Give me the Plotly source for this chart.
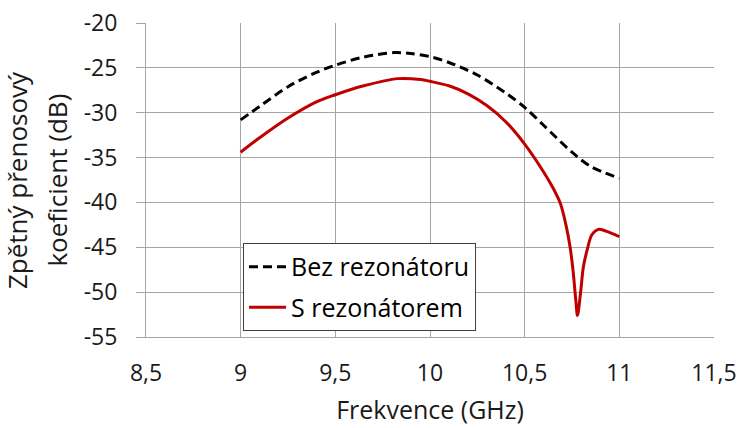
import plotly.graph_objects as go

freq_bez = [9.0, 9.1, 9.25, 9.4, 9.5, 9.65, 9.81, 9.9, 10.0, 10.1, 10.25, 10.4, 10.5, 10.6, 10.75, 10.85, 11.0]
bez = [-30.8, -29.3, -27.1, -25.5, -24.7, -23.8, -23.3, -23.4, -23.75, -24.4, -25.8, -27.8, -29.4, -31.4, -34.4, -36.0, -37.3]

freq_s = [9.0, 9.1, 9.25, 9.4, 9.5, 9.65, 9.83, 9.95, 10.0, 10.1, 10.2, 10.3, 10.4, 10.5, 10.6, 10.65, 10.69, 10.72, 10.74,
          10.755, 10.77, 10.779, 10.795, 10.81, 10.83, 10.855, 10.89, 10.93, 11.0]
s_rez = [-34.4, -32.8, -30.6, -28.8, -28.0, -27.0, -26.2, -26.3, -26.5, -27.0, -27.9, -29.2, -31.0, -33.5, -36.6, -38.4, -40.2, -42.7, -45.0,
         -47.5, -50.9, -52.6, -50.1, -47.2, -45.3, -43.6, -43.0, -43.2, -43.8]

x_ticks = [8.5, 9, 9.5, 10, 10.5, 11, 11.5]
x_ticklabels = ["8,5", "9", "9,5", "10", "10,5", "11", "11,5"]
y_ticks = [-20, -25, -30, -35, -40, -45, -50, -55]
y_ticklabels = ["-20", "-25", "-30", "-35", "-40", "-45", "-50", "-55"]
y_title_lines = ["Zpětný přenosový", "koeficient (dB)"]

font_family = "Open Sans"
text_color = "#1a1a1a"
grid_color = "#a6a6a6"

fig = go.Figure()
fig.add_trace(go.Scatter(x=freq_bez, y=bez, mode="lines", name="Bez rezonátoru", legendgroup="a",
                         line=dict(color="black", width=3, dash="9px,5px", shape="spline", smoothing=0.9)))
fig.add_trace(go.Scatter(x=freq_s, y=s_rez, mode="lines", name="S rezonátorem", legendgroup="b",
                         line=dict(color="#c00000", width=3, shape="spline", smoothing=0.9)))

# two-line y-axis title as rotated annotations
fig.add_annotation(text=y_title_lines[0], xref="paper", yref="paper", x=-0.227, y=0.5,
                   xanchor="center", yanchor="middle", textangle=-90, showarrow=False,
                   font=dict(size=26, family=font_family, color=text_color))
fig.add_annotation(text=y_title_lines[1], xref="paper", yref="paper", x=-0.1575, y=0.5,
                   xanchor="center", yanchor="middle", textangle=-90, showarrow=False,
                   font=dict(size=26, family=font_family, color=text_color))

fig.update_layout(
    width=742, height=428,
    margin=dict(l=146, r=28, t=23, b=91, autoexpand=False),
    paper_bgcolor="white", plot_bgcolor="white",
    font=dict(family=font_family, size=23, color=text_color),
    showlegend=True,
    legend=dict(x=0.1708, y=0.2994, xanchor="left", yanchor="top",
                bordercolor="#404040", borderwidth=1, bgcolor="white",
                tracegroupgap=5, itemwidth=37,
                font=dict(size=25, family=font_family, color="black")),
    xaxis=dict(range=[8.5, 11.5], tickvals=x_ticks, ticktext=x_ticklabels,
               showgrid=True, gridcolor=grid_color, gridwidth=1, automargin=False,
               zeroline=False, showline=True, linecolor=grid_color,
               ticks="", ticklabelstandoff=15,
               title=dict(text="Frekvence (GHz)", standoff=14, font=dict(size=25))),
    yaxis=dict(range=[-55, -20], tickvals=y_ticks, ticktext=y_ticklabels,
               showgrid=True, gridcolor=grid_color, gridwidth=1, automargin=False,
               zeroline=False, showline=True, linecolor=grid_color,
               ticks="outside", ticklen=9, tickcolor=grid_color,
               ticklabelstandoff=14),
)

# remove the default 8px page margin so the figure fills the window exactly
fig.write_html("out.html", config={"displayModeBar": False},
               post_script="document.body.style.margin='0';")
